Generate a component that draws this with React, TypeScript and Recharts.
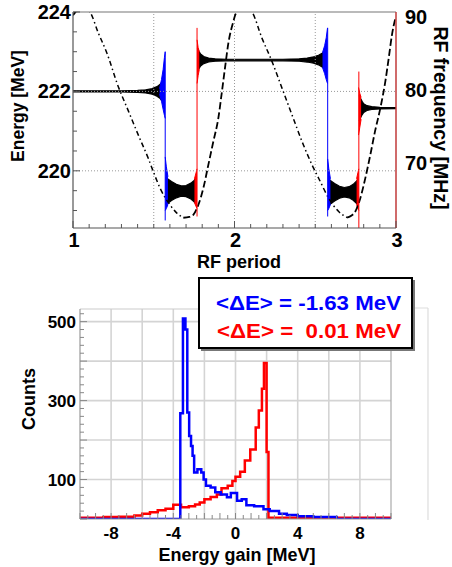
import React from 'react';
import { ComposedChart, Line, Area, XAxis, YAxis, ReferenceLine } from 'recharts';

const FONT = '"Liberation Sans", Arial, Helvetica, sans-serif';

// ---------- top panel data ----------
const topXLabels = [1, 2, 3];
const topELabels = [220, 222, 224];
const topFLabels = [70, 80, 90];
const topGridX = [1.5, 2, 2.5];
const topGridE = [220, 222];

// black energy bands: [x, centre, half-width]
const bandA = [[1.0, 222.0, 0.015], [1.3, 222.0, 0.015], [1.4, 222.0, 0.025], [1.45, 222.0, 0.04], [1.49, 222.0, 0.07], [1.52, 222.0, 0.12], [1.54, 222.0, 0.18], [1.555, 222.0, 0.26], [1.565, 222.0, 0.32]];
const bandB = [[1.574, 219.49, 0.34], [1.59, 219.49, 0.3], [1.61, 219.49, 0.24], [1.64, 219.49, 0.17], [1.67, 219.49, 0.13], [1.7, 219.49, 0.14], [1.73, 219.49, 0.2], [1.75, 219.49, 0.27], [1.762, 219.49, 0.33]];
const bandC = [[1.77, 222.79, 0.3], [1.78, 222.79, 0.22], [1.79, 222.79, 0.15], [1.81, 222.79, 0.09], [1.84, 222.79, 0.05], [1.88, 222.79, 0.03], [1.95, 222.79, 0.02], [2.3, 222.79, 0.02], [2.4, 222.79, 0.03], [2.45, 222.79, 0.05], [2.49, 222.79, 0.08], [2.52, 222.79, 0.12], [2.545, 222.79, 0.18], [2.56, 222.79, 0.24], [2.572, 222.79, 0.3]];
const bandD = [[2.58, 219.46, 0.34], [2.6, 219.46, 0.28], [2.62, 219.46, 0.22], [2.65, 219.46, 0.15], [2.68, 219.46, 0.12], [2.71, 219.46, 0.14], [2.735, 219.46, 0.2], [2.755, 219.46, 0.28], [2.766, 219.46, 0.33]];
const bandE = [[2.772, 221.58, 0.32], [2.78, 221.58, 0.25], [2.79, 221.58, 0.17], [2.8, 221.58, 0.11], [2.82, 221.58, 0.06], [2.85, 221.58, 0.035], [2.9, 221.58, 0.02], [3.0, 221.58, 0.015]];

// coloured flares: [x, low, high]
const blueFlare1 = [[1.536, 221.93, 222.07], [1.548, 221.75, 222.3], [1.558, 221.55, 222.55], [1.566, 221.4, 222.85], [1.571, 221.32, 223.0]];
const blueFlare2 = [[1.571, 219.0, 220.35], [1.578, 219.05, 220.1], [1.588, 219.15, 219.85]];
const redFlare1 = [[1.752, 219.2, 219.8], [1.762, 219.1, 219.95], [1.768, 219.05, 220.05]];
const redFlare2 = [[1.768, 222.2, 223.3], [1.775, 222.4, 223.1], [1.782, 222.55, 223.0]];
const blueFlare3 = [[2.545, 222.6, 222.98], [2.558, 222.45, 223.15], [2.568, 222.3, 223.35], [2.576, 222.2, 223.6]];
const blueFlare4 = [[2.577, 219.0, 220.3], [2.584, 219.05, 220.05], [2.594, 219.15, 219.8]];
const redFlare3 = [[2.756, 219.15, 219.8], [2.764, 219.05, 219.95], [2.77, 219.0, 220.05]];
const redFlare4 = [[2.768, 220.9, 222.1], [2.776, 221.1, 221.95], [2.784, 221.3, 221.85]];

// thin vertical transitions: [x, from, to]
const blueSpikes = [[1.571, 223.0, 218.75], [2.577, 223.6, 218.85]];
const redSpikes = [[1.768, 223.6, 218.85], [2.77, 222.5, 218.56]];

// RF frequency (MHz): descending and ascending branches
const freqDesc1 = [[1.055, 91.3], [1.08, 91.1], [1.105, 90.64], [1.157, 87.78], [1.209, 85.1], [1.28, 80.5], [1.342, 77.2], [1.404, 73.9], [1.466, 70.7], [1.497, 68.91], [1.539, 66.63], [1.601, 64.35], [1.64, 63.3], [1.683, 62.6]];
const freqAsc0 = [[1.0, 90.2], [1.03, 91.0], [1.055, 91.3]];
const freqAsc1 = [[1.683, 62.6], [1.72, 62.7], [1.745, 63.0], [1.776, 64.35], [1.807, 66.63], [1.838, 69.81], [1.869, 73.0], [1.9, 76.18], [1.921, 79.6], [1.941, 83.0], [1.962, 86.4], [1.993, 89.37], [2.005, 90.27], [2.03, 91.0], [2.055, 91.3]];
const freqDesc2 = [[2.055, 91.3], [2.08, 91.1], [2.108, 90.64], [2.17, 87.09], [2.232, 83.92], [2.294, 80.27], [2.356, 76.63], [2.418, 73.0], [2.48, 69.81], [2.531, 67.54], [2.583, 65.27], [2.645, 63.45], [2.697, 62.63]];
const freqAsc2 = [[2.697, 62.63], [2.725, 62.9], [2.748, 63.45], [2.779, 65.27], [2.81, 68.0], [2.841, 71.17], [2.87, 74.37], [2.903, 77.54], [2.934, 81.19], [2.955, 84.37], [2.975, 87.54], [2.996, 89.82]];

// ---------- bottom panel data ----------
const botXLabels = [-8, -4, 0, 4, 8];
const botYLabels = [100, 300, 500];
const botGridX = [-8, -6, -4, -2, 0, 2, 4, 6, 8];
const botGridY = [100, 200, 300, 400, 500];

// histogram steps: [bin start MeV, counts]
const blueHist = [[-10, 0], [-3.55, 268], [-3.38, 508], [-3.22, 480], [-3.1, 270], [-2.98, 210], [-2.86, 185], [-2.76, 160], [-2.66, 118], [-2.45, 126], [-2.2, 118], [-2.05, 100], [-1.9, 84], [-1.6, 80], [-1.3, 68], [-0.95, 62], [-0.55, 55], [-0.3, 66], [0.1, 46], [0.4, 50], [0.7, 35], [1.2, 32], [1.8, 25], [2.2, 20], [2.8, 13], [3.3, 10], [4.0, 7], [5.0, 5], [6.5, 0], [10, 0]];
const redHist = [[-10, 3], [-8.5, 5], [-7.5, 6], [-6.5, 9], [-6, 13], [-5.5, 17], [-5, 22], [-4.5, 26], [-4, 36], [-3.5, 30], [-3, 32], [-2.6, 37], [-2.3, 42], [-2, 50], [-1.6, 56], [-1.2, 62], [-0.9, 78], [-0.5, 84], [-0.2, 96], [0, 107], [0.3, 120], [0.6, 148], [0.95, 176], [1.3, 232], [1.5, 275], [1.7, 330], [1.83, 395], [2.0, 170], [2.12, 3], [10, 3]];

const legendBlue = '<ΔE> = -1.63 MeV';
const legendRed = '<ΔE> =  0.01 MeV';

// ---------- helpers ----------
const band = (arr: number[][]) => arr.map(([x, c, w]) => ({ x, r: [c - w, c + w] }));
const flare = (arr: number[][]) => arr.map(([x, lo, hi]) => ({ x, r: [lo, hi] }));
const pts = (arr: number[][]) => arr.map(([x, y]) => ({ x, y }));
const spike = (s: number[]) => [{ x: s[0], y: s[1] }, { x: s[0], y: s[2] }];

const step = (a: number, b: number, s: number) => {
  const out: number[] = [];
  for (let v = a; v <= b + 1e-9; v += s) out.push(Math.round(v * 1000) / 1000);
  return out;
};
const topXTicks = step(1, 3, 0.1);
const topETicks = step(219, 224, 0.5);
const botXTicks = step(-10, 10, 0.5);
const botYTicks = step(0, 520, 20);

const has = (arr: number[], v: number) => arr.some((a) => Math.abs(a - v) < 1e-6);

const TopXTick = (p: any) => {
  const { x, y, payload } = p;
  const v = payload.value;
  const maj = has(topXLabels, v);
  return (
    <g>
      <line x1={x} x2={x} y1={y} y2={y - (maj ? 7 : 4)} stroke="#555" strokeWidth={1} />
      {maj && (
        <text x={x + 1} y={y + 19} textAnchor="middle" fontFamily={FONT} fontWeight="bold" fontSize={20} fill="#000">{v}</text>
      )}
    </g>
  );
};
const TopETick = (p: any) => {
  const { x, y, payload } = p;
  const v = payload.value;
  const maj = has(topELabels, v);
  return (
    <g>
      <line x1={x} x2={x + (maj ? 7 : 4)} y1={y} y2={y} stroke="#555" strokeWidth={1} />
      {maj && (
        <text x={x - 2} y={y + 7} textAnchor="end" fontFamily={FONT} fontWeight="bold" fontSize={20} fill="#000">{v}</text>
      )}
    </g>
  );
};
const TopFTick = (p: any) => {
  const { x, y, payload } = p;
  return (
    <text x={x + 9} y={y + 7} textAnchor="start" fontFamily={FONT} fontWeight="bold" fontSize={20} fill="#000">{payload.value}</text>
  );
};
const BotXTick = (p: any) => {
  const { x, y, payload } = p;
  const v = payload.value;
  const maj = has(botXLabels, v);
  const whole = Math.abs(v - Math.round(v)) < 1e-6;
  return (
    <g>
      <line x1={x} x2={x} y1={y} y2={y - (whole ? 6 : 4)} stroke="#888" strokeWidth={1} />
      {maj && (
        <text x={x} y={y + 20} textAnchor="middle" fontFamily={FONT} fontWeight="bold" fontSize={17} fill="#000">{v}</text>
      )}
    </g>
  );
};
const BotYTick = (p: any) => {
  const { x, y, payload } = p;
  const v = payload.value;
  const maj = has(botYLabels, v);
  const hund = v % 100 === 0;
  return (
    <g>
      <line x1={x} x2={x + (hund ? 7 : 4)} y1={y} y2={y} stroke="#888" strokeWidth={1} />
      {maj && (
        <text x={x - 4} y={y + 6} textAnchor="end" fontFamily={FONT} fontWeight="bold" fontSize={17} fill="#000">{v}</text>
      )}
    </g>
  );
};

const bandProps = { isAnimationActive: false, dot: false, activeDot: false, type: 'linear' as const, yAxisId: 'E', dataKey: 'r' };

export default function App() {
  return (
    <div style={{ position: 'absolute', left: 0, top: 0, width: 452, height: 567, background: '#fff', overflow: 'hidden' }}>
      <div style={{ position: 'absolute', left: 0, top: 0 }}>
        <ComposedChart width={452} height={250} margin={{ top: 12, right: 0, bottom: 0, left: 0 }}>
          <XAxis type="number" dataKey="x" domain={[1, 3]} ticks={topXTicks} interval={0} height={22} tickSize={0} tickMargin={0} tickLine={false} axisLine={{ stroke: '#555', strokeWidth: 1.2 }} tick={(p: any) => <TopXTick {...p} />} allowDataOverflow />
          <YAxis yAxisId="E" orientation="left" width={73} domain={[218.56, 224.0]} ticks={topETicks} interval={0} tickSize={0} tickMargin={0} tickLine={false} axisLine={{ stroke: '#555', strokeWidth: 1.2 }} tick={(p: any) => <TopETick {...p} />} allowDataOverflow />
          <YAxis yAxisId="F" orientation="right" width={56} domain={[61.2, 90.65]} ticks={topFLabels} interval={0} tickSize={0} tickMargin={0} tickLine={false} axisLine={{ stroke: '#c03a3a', strokeWidth: 1.5 }} tick={(p: any) => <TopFTick {...p} />} allowDataOverflow />
          {topGridX.map((g) => (
            <ReferenceLine key={'gx' + g} yAxisId="E" x={g} stroke="#999" strokeWidth={1} strokeDasharray="1 2" />
          ))}
          {topGridE.map((g) => (
            <ReferenceLine key={'ge' + g} yAxisId="E" y={g} stroke="#999" strokeWidth={1} strokeDasharray="1 2" />
          ))}
          <ReferenceLine yAxisId="E" y={224.0} stroke="#777" strokeWidth={1.2} />

          {[freqAsc0, freqAsc1, freqAsc2].map((d, i) => (
            <Line key={'fa' + i} yAxisId="F" data={pts(d)} dataKey="y" type="monotone" stroke="#000" strokeWidth={1.8} strokeDasharray="7 3" dot={false} activeDot={false} isAnimationActive={false} />
          ))}
          {[freqDesc1, freqDesc2].map((d, i) => (
            <Line key={'fd' + i} yAxisId="F" data={pts(d)} dataKey="y" type="monotone" stroke="#000" strokeWidth={1.5} strokeDasharray="5 3 1.5 3" dot={false} activeDot={false} isAnimationActive={false} />
          ))}

          {blueSpikes.map((s, i) => (
            <Line key={'bs' + i} yAxisId="E" data={spike(s)} dataKey="y" type="linear" stroke="#0000ff" strokeWidth={1} dot={false} activeDot={false} isAnimationActive={false} />
          ))}
          {redSpikes.map((s, i) => (
            <Line key={'rs' + i} yAxisId="E" data={spike(s)} dataKey="y" type="linear" stroke="#ff0000" strokeWidth={1} dot={false} activeDot={false} isAnimationActive={false} />
          ))}

          {[bandA, bandB, bandC, bandD, bandE].map((d, i) => (
            <Area key={'bk' + i} {...bandProps} data={band(d)} stroke="#000" strokeWidth={1.2} fill="#000" fillOpacity={1} />
          ))}
          {[blueFlare1, blueFlare2, blueFlare3, blueFlare4].map((d, i) => (
            <Area key={'bf' + i} {...bandProps} data={flare(d)} stroke="#0000ff" strokeWidth={1} fill="#0000ff" fillOpacity={1} />
          ))}
          {[redFlare1, redFlare2, redFlare3, redFlare4].map((d, i) => (
            <Area key={'rf' + i} {...bandProps} data={flare(d)} stroke="#ff0000" strokeWidth={1} fill="#ff0000" fillOpacity={1} />
          ))}
        </ComposedChart>
      </div>

      <div style={{ position: 'absolute', left: 0, top: 280 }}>
        <ComposedChart width={452} height={287} margin={{ top: 29, right: 61, bottom: 0, left: 0 }}>
          <XAxis type="number" dataKey="x" domain={[-10, 10]} ticks={botXTicks} interval={0} height={48} tickSize={0} tickMargin={0} tickLine={false} axisLine={{ stroke: '#999', strokeWidth: 1.2 }} tick={(p: any) => <BotXTick {...p} />} allowDataOverflow />
          <YAxis type="number" domain={[0, 532]} ticks={botYTicks} interval={0} width={80} tickSize={0} tickMargin={0} tickLine={false} axisLine={{ stroke: '#999', strokeWidth: 1.2 }} tick={(p: any) => <BotYTick {...p} />} allowDataOverflow />
          {botGridX.map((g) => (
            <ReferenceLine key={'bgx' + g} x={g} stroke="#d4d4d4" strokeWidth={1.6} />
          ))}
          {botGridY.map((g) => (
            <ReferenceLine key={'bgy' + g} y={g} stroke="#d4d4d4" strokeWidth={1.6} />
          ))}
          <ReferenceLine x={10} stroke="#aaa" strokeWidth={1.2} />
          <ReferenceLine y={532} stroke="#ccc" strokeWidth={1.2} />
          <Line data={pts(redHist)} dataKey="y" type="stepAfter" stroke="#ff0000" strokeWidth={2.5} dot={false} activeDot={false} isAnimationActive={false} />
          <Line data={pts(blueHist)} dataKey="y" type="stepAfter" stroke="#0000ff" strokeWidth={2.5} dot={false} activeDot={false} isAnimationActive={false} />
        </ComposedChart>
      </div>

      <svg width={452} height={567} style={{ position: 'absolute', left: 0, top: 0, pointerEvents: 'none' }}>
        <g fontFamily={FONT} fontWeight="bold" fill="#000">
          <text x={17.5} y={106} fontSize={17.5} textAnchor="middle" dominantBaseline="central" transform="rotate(-90 17.5 106)">Energy [MeV]</text>
          <text x={441} y={118} fontSize={19.5} textAnchor="middle" dominantBaseline="central" transform="rotate(90 441 118)">RF frequency [MHz]</text>
          <text x={239} y={262} fontSize={18} textAnchor="middle" dominantBaseline="central">RF period</text>
          <text x={29} y={399} fontSize={18} textAnchor="middle" dominantBaseline="central" transform="rotate(-90 29 399)">Counts</text>
          <text x={237} y={555} fontSize={18} textAnchor="middle" dominantBaseline="central">Energy gain [MeV]</text>
        </g>
        <line x1={391} y1={308} x2={428} y2={308} stroke="#ddd" strokeWidth={1.2} />
        <line x1={428} y1={308} x2={428} y2={520} stroke="#ddd" strokeWidth={1.2} />
        <rect x={201} y={280} width={214} height={71} fill="#777" />
        <rect x={199} y={278} width={213} height={70} fill="#fff" stroke="#000" strokeWidth={2} />
        <g fontFamily={FONT} fontWeight="bold" fontSize={21}>
          <text x={216} y={302} dominantBaseline="central" fill="#0000ff" textLength={185} lengthAdjust="spacingAndGlyphs" xmlSpace="preserve" style={{ whiteSpace: 'pre' }}>{legendBlue}</text>
          <text x={217} y={330} dominantBaseline="central" fill="#ff0000" textLength={184} lengthAdjust="spacingAndGlyphs" xmlSpace="preserve" style={{ whiteSpace: 'pre' }}>{legendRed}</text>
        </g>
      </svg>
    </div>
  );
}
